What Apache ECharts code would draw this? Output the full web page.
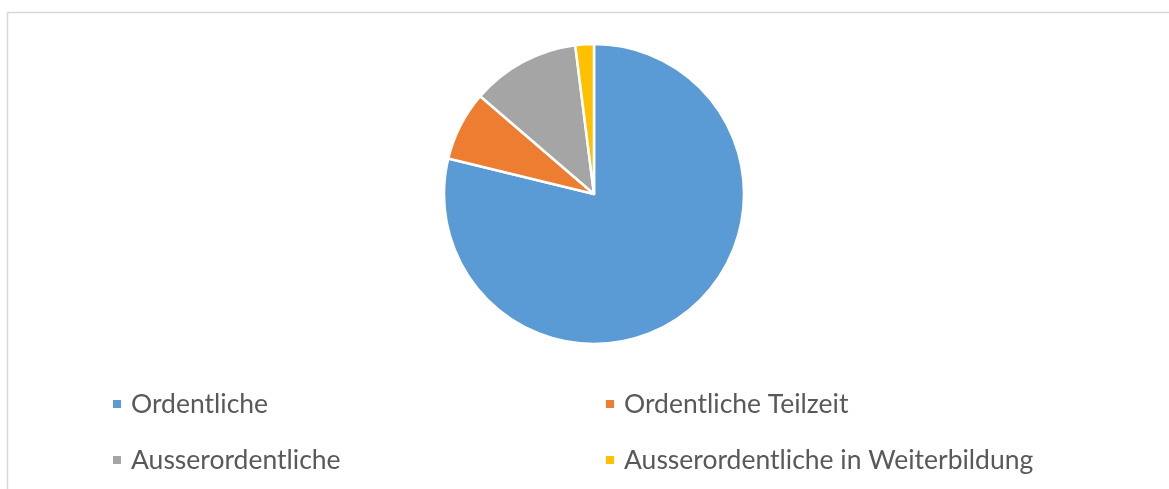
<!DOCTYPE html>
<html>
<head>
<meta charset="utf-8">
<script src="https://cdn.jsdelivr.net/npm/echarts@6/dist/echarts.min.js"></script>
<style>
html,body{margin:0;padding:0;background:#fff;}
#chart{width:1169px;height:489px;}
</style>
</head>
<body>
<div id="chart"></div>
<script>
const categories = ['Ordentliche', 'Ordentliche Teilzeit', 'Ausserordentliche', 'Ausserordentliche in Weiterbildung'];
const values = [78.8, 7.5, 11.7, 2.0];
const colors = ['#5B9BD5', '#ED7D31', '#A5A5A5', '#FFC000'];

const chart = echarts.init(document.getElementById('chart'), null, {renderer: 'canvas'});
const legendText = {
  fontFamily: 'Lato', fontSize: 26.5, color: '#595959', lineHeight: 30,
  rich: {
    s: {width: 4, fontSize: 26.5, lineHeight: 30},
    t: {fontFamily: 'Lato', fontSize: 26.5, color: '#595959', lineHeight: 30}
  }
};
const fmt = name => '{s| }{t|' + name + '}';
chart.setOption({
  animation: false,
  color: colors,
  graphic: [{
    type: 'rect', shape: {x: 7.5, y: 12.5, width: 1200, height: 500},
    style: {fill: 'none', stroke: '#D9D9D9', lineWidth: 1.5}, silent: true, z: -1
  }],
  legend: [
    {orient: 'vertical', left: 111, top: 389, padding: 0, itemWidth: 10, itemHeight: 10, itemGap: 26,
     icon: 'rect', data: [categories[0], categories[2]], formatter: fmt, textStyle: legendText},
    {orient: 'vertical', left: 604, top: 389, padding: 0, itemWidth: 10, itemHeight: 10, itemGap: 26,
     icon: 'rect', data: [categories[1], categories[3]], formatter: fmt, textStyle: legendText}
  ],
  series: [{
    type: 'pie',
    center: [594, 194],
    radius: 150,
    startAngle: 90,
    clockwise: true,
    label: {show: false},
    labelLine: {show: false},
    itemStyle: {borderColor: '#fff', borderWidth: 2.5},
    data: categories.map((c, i) => ({name: c, value: values[i]}))
  }]
});
</script>
</body>
</html>
